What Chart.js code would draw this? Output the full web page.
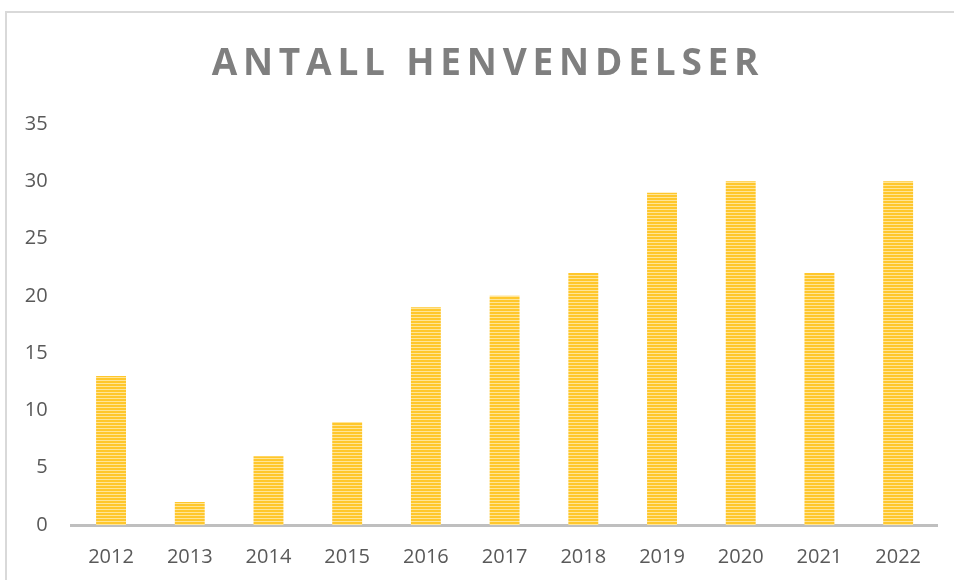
<!DOCTYPE html>
<html>
<head>
<meta charset="utf-8">
<script src="https://cdn.jsdelivr.net/npm/chart.js@4"></script>
<style>
  html, body { margin: 0; padding: 0; background: #fff; overflow: hidden; }
  #wrap { position: relative; width: 954px; height: 580px; }
  #frame { position: absolute; left: 5px; top: 11px; width: 960px; height: 600px;
           border-top: 2px solid #d9d9d9; border-left: 2px solid #d9d9d9; pointer-events: none; }
</style>
</head>
<body>
<div id="wrap">
  <canvas id="chart" width="954" height="580"></canvas>
  <div id="frame"></div>
</div>
<script>
// Data
const years = ['2012', '2013', '2014', '2015', '2016', '2017', '2018', '2019', '2020', '2021', '2022'];
const henvendelser = [13, 2, 6, 9, 19, 20, 22, 29, 30, 22, 30];
const chartTitle = 'ANTALL HENVENDELSER';

// horisontalt stripemønster som i Excel
function stripePattern() {
    const c = document.createElement('canvas');
    c.width = 4;
    c.height = 3;
    const p = c.getContext('2d');
    p.fillStyle = '#FFC72C';
    p.fillRect(0, 0, 4, 3);
    p.fillStyle = '#FFE597';
    p.fillRect(0, 2, 4, 1);
    return p.createPattern(c, 'repeat');
}

// tittel med sperret skrift
const titlePlugin = {
    id: 'spacedTitle',
    afterDraw(chart) {
        const ctx = chart.ctx;
        ctx.save();
        ctx.font = 'bold 37px "Open Sans", sans-serif';
        ctx.fillStyle = '#7f7f7f';
        ctx.textAlign = 'center';
        ctx.textBaseline = 'middle';
        if ('letterSpacing' in ctx) ctx.letterSpacing = '5.8px';
        ctx.fillText(chartTitle, 488, 64);
        ctx.restore();
    }
};

const ctx = document.getElementById('chart');
new Chart(ctx, {
    type: 'bar',
    data: {
        labels: years,
        datasets: [{
            label: 'Antall henvendelser',
            data: henvendelser,
            backgroundColor: stripePattern(),
            borderWidth: 0,
            barPercentage: 0.38,
            categoryPercentage: 1
        }]
    },
    options: {
        responsive: false,
        animation: false,
        layout: {
            padding: { top: 124, right: 16.5, bottom: 0, left: 0 }
        },
        plugins: {
            legend: { display: false },
            title: { display: false },
            tooltip: { enabled: false }
        },
        scales: {
            x: {
                grid: { display: false, drawTicks: false },
                border: { display: true, color: '#bfbfbf', width: 3 },
                ticks: {
                    color: '#595959',
                    padding: 20,
                    font: { family: '"Open Sans", sans-serif', size: 20 }
                },
                afterFit(scale) { scale.height = 55; }
            },
            y: {
                min: 0,
                max: 35,
                grid: { display: false, drawTicks: false },
                border: { display: false },
                ticks: {
                    stepSize: 5,
                    color: '#595959',
                    padding: 24,
                    font: { family: '"Open Sans", sans-serif', size: 20 }
                },
                afterFit(scale) { scale.width = 71.7; }
            }
        }
    },
    plugins: [titlePlugin]
});
</script>
</body>
</html>
